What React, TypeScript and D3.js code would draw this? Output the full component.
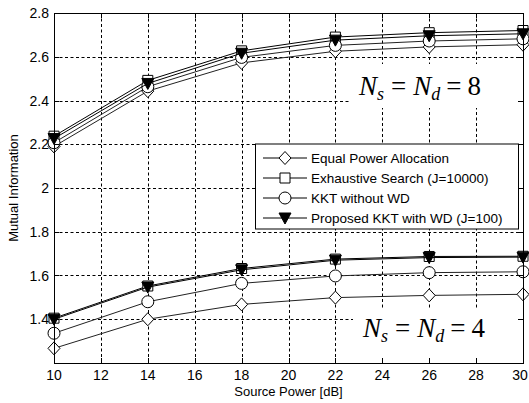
import React, { useEffect, useRef } from "react";
import * as d3 from "d3";

const powers = [10, 14, 18, 22, 26, 30];

// Ns = Nd = 8
const equal8 = [2.19, 2.443, 2.572, 2.625, 2.645, 2.655];
const exhaustive8 = [2.237, 2.492, 2.627, 2.69, 2.71, 2.72];
const kkt8 = [2.207, 2.463, 2.597, 2.652, 2.672, 2.682];
const proposed8 = [2.226, 2.478, 2.616, 2.676, 2.696, 2.705];

// Ns = Nd = 4
const equal4 = [1.267, 1.4, 1.468, 1.499, 1.509, 1.514];
const exhaustive4 = [1.405, 1.552, 1.632, 1.675, 1.687, 1.688];
const kkt4 = [1.336, 1.48, 1.564, 1.598, 1.613, 1.617];
const proposed4 = [1.4, 1.547, 1.626, 1.67, 1.682, 1.684];

const xTicks = [10, 12, 14, 16, 18, 20, 22, 24, 26, 28, 30];
const yTicks = [1.4, 1.6, 1.8, 2, 2.2, 2.4, 2.6, 2.8];

const legendLabels = [
  "Equal Power Allocation",
  "Exhaustive Search (J=10000)",
  "KKT without WD",
  "Proposed KKT with WD (J=100)",
];
const markerKinds = ["diamond", "square", "circle", "triangle"];

const App = () => {
  const ref = useRef<SVGSVGElement>(null);

  useEffect(() => {
    const width = 529;
    const height = 403;
    const margin = { top: 13, right: 6, bottom: 40, left: 54 };
    const innerWidth = width - margin.left - margin.right;
    const innerHeight = height - margin.top - margin.bottom;

    const svg = d3.select(ref.current);
    svg.selectAll("*").remove();
    svg.attr("width", width).attr("height", height);

    const g = svg.append("g").attr("transform", `translate(${margin.left},${margin.top})`);

    const xScale = d3.scaleLinear().domain([10, 30]).range([0, innerWidth]);
    const yScale = d3.scaleLinear().domain([1.2, 2.8]).range([innerHeight, 0]);

    g.append("rect").attr("width", innerWidth).attr("height", innerHeight).attr("fill", "#fff");

    // grid
    g.selectAll(".gx").data(xTicks.slice(1, -1)).enter().append("line")
      .attr("x1", d => Math.round(xScale(d)) + 0.5).attr("x2", d => Math.round(xScale(d)) + 0.5)
      .attr("y1", 0).attr("y2", innerHeight)
      .attr("stroke", "#000").attr("stroke-dasharray", "3,2.5");
    g.selectAll(".gy").data(yTicks.slice(0, -1)).enter().append("line")
      .attr("y1", d => Math.round(yScale(d)) + 0.5).attr("y2", d => Math.round(yScale(d)) + 0.5)
      .attr("x1", 0).attr("x2", innerWidth)
      .attr("stroke", "#000").attr("stroke-dasharray", "3,2.5");

    // white boxes behind the annotations
    g.append("rect").attr("x", 296).attr("y", 51).attr("width", innerWidth - 296).attr("height", 44).attr("fill", "#fff");
    g.append("rect").attr("x", 299).attr("y", 295).attr("width", innerWidth - 299).attr("height", innerHeight - 295).attr("fill", "#fff");

    const symbolPath = (kind: string, cx: number, cy: number) => {
      if (kind === "diamond") return `M${cx},${cy - 6.5}L${cx + 6},${cy}L${cx},${cy + 6.5}L${cx - 6},${cy}Z`;
      if (kind === "square") return `M${cx - 5},${cy - 5}h10v10h-10Z`;
      if (kind === "triangle") return `M${cx - 6},${cy - 5}L${cx + 6},${cy - 5}L${cx},${cy + 6}Z`;
      return "";
    };

    const drawMarker = (sel: any, kind: string, cx: number, cy: number) => {
      if (kind === "circle") {
        sel.append("circle").attr("cx", cx).attr("cy", cy).attr("r", 6)
          .attr("fill", "#fff").attr("stroke", "#000");
      } else {
        sel.append("path").attr("d", symbolPath(kind, cx, cy))
          .attr("fill", kind === "triangle" ? "#000" : "#fff").attr("stroke", "#000");
      }
    };

    const line = d3.line<number>().x((_, i) => xScale(powers[i])).y(d => yScale(d));

    const groups = [
      [equal8, exhaustive8, kkt8, proposed8],
      [equal4, exhaustive4, kkt4, proposed4],
    ];
    groups.forEach(series => {
      series.forEach((vals, k) => {
        g.append("path").attr("d", line(vals) as string)
          .attr("fill", "none").attr("stroke", k === 0 || k === 2 ? "#222" : "#000").attr("stroke-width", 1);
        const mg = g.append("g");
        vals.forEach((v, i) => drawMarker(mg, markerKinds[k], xScale(powers[i]), yScale(v)));
      });
    });

    // axes box with inward ticks on all sides
    const axis = g.append("g").attr("stroke", "#000").attr("stroke-width", 1);
    xTicks.forEach(t => {
      const x = Math.round(xScale(t)) + 0.5;
      axis.append("line").attr("x1", x).attr("x2", x).attr("y1", innerHeight).attr("y2", innerHeight - 5);
      axis.append("line").attr("x1", x).attr("x2", x).attr("y1", 0).attr("y2", 5);
    });
    yTicks.forEach(t => {
      const y = Math.round(yScale(t)) + 0.5;
      axis.append("line").attr("x1", 0).attr("x2", 5).attr("y1", y).attr("y2", y);
      axis.append("line").attr("x1", innerWidth).attr("x2", innerWidth - 5).attr("y1", y).attr("y2", y);
    });
    axis.append("rect").attr("x", 0.5).attr("y", 0.5).attr("width", innerWidth).attr("height", innerHeight)
      .attr("fill", "none");

    const font = "Arial, 'Liberation Sans', sans-serif";
    g.selectAll(".xl").data(xTicks).enter().append("text")
      .attr("x", d => Math.min(xScale(d), innerWidth - 3)).attr("y", innerHeight + 16.5)
      .attr("text-anchor", "middle").style("font-family", font).style("font-size", "14px")
      .text(d => String(d));
    g.selectAll(".yl").data(yTicks).enter().append("text")
      .attr("x", -5).attr("y", d => yScale(d) + 5)
      .attr("text-anchor", "end").style("font-family", font).style("font-size", "14px")
      .text(d => (d === 2 ? "2" : d.toFixed(1)));

    svg.append("text")
      .attr("x", margin.left + innerWidth / 2).attr("y", height - 7)
      .attr("text-anchor", "middle").style("font-family", font).style("font-size", "13px")
      .text("Source Power [dB]");
    svg.append("text")
      .attr("transform", `translate(18,${margin.top + innerHeight / 2}) rotate(-90)`)
      .attr("text-anchor", "middle").style("font-family", font).style("font-size", "13px")
      .text("Mutual Information");

    // annotations
    const serif = "'Liberation Serif', 'Times New Roman', serif";
    const annotate = (x: number, y: number, n: string) => {
      const t = g.append("text").attr("x", x).attr("y", y)
        .style("font-family", serif).style("font-size", "27px");
      t.append("tspan").style("font-style", "italic").text("N");
      t.append("tspan").attr("dy", 5).style("font-style", "italic").style("font-size", "18px").text("s");
      t.append("tspan").attr("dy", -5).attr("dx", 7).text("=");
      t.append("tspan").attr("dx", 7).style("font-style", "italic").text("N");
      t.append("tspan").attr("dy", 5).style("font-style", "italic").style("font-size", "18px").text("d");
      t.append("tspan").attr("dy", -5).attr("dx", 6).text("=");
      t.append("tspan").attr("dx", 6).text(n);
    };
    annotate(305, 82, "8");
    annotate(309, 324, "4");

    // legend
    const lg = g.append("g").attr("transform", `translate(${255 - margin.left},${143.5 - margin.top})`);
    lg.append("rect").attr("x", 0.5).attr("y", 0.5).attr("width", 263).attr("height", 85)
      .attr("fill", "#fff").attr("stroke", "#000");
    legendLabels.forEach((label, i) => {
      const y = 14.5 + i * 20;
      lg.append("line").attr("x1", 8).attr("x2", 52).attr("y1", y).attr("y2", y).attr("stroke", "#000");
      drawMarker(lg, markerKinds[i], 30, y);
      lg.append("text").attr("x", 56).attr("y", y + 5)
        .style("font-family", font).style("font-size", "13.5px").text(label);
    });
  }, []);

  return <svg ref={ref} style={{ position: "absolute", left: 0, top: 0 }}></svg>;
};

export default App;
